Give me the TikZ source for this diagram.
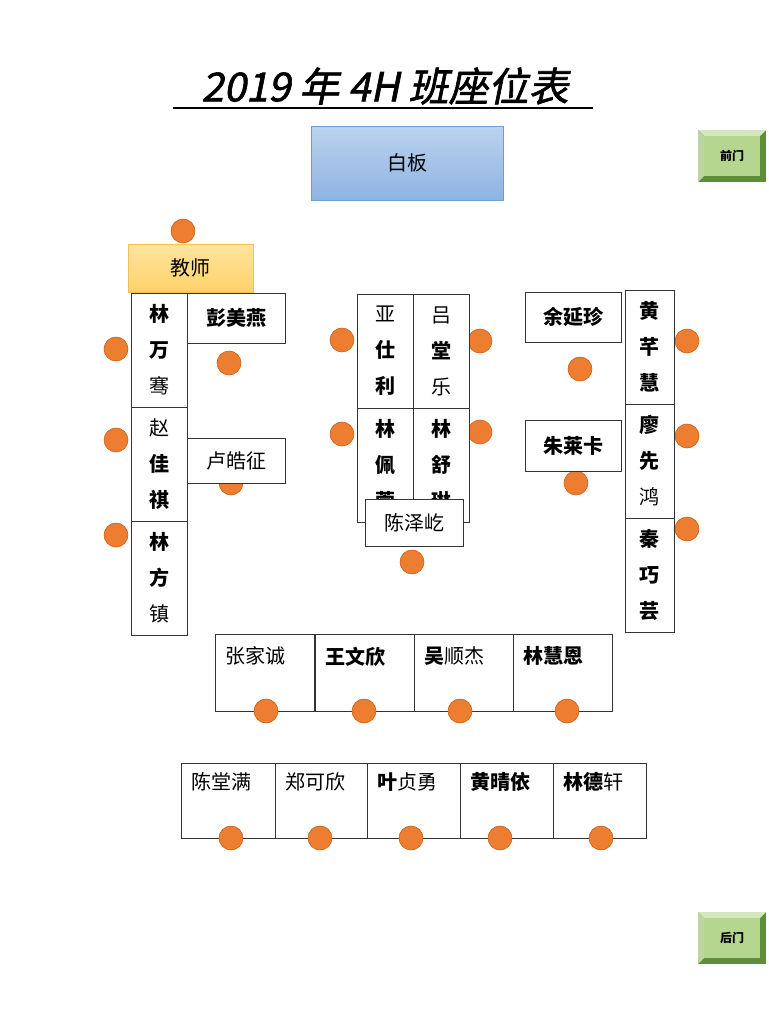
\documentclass[tikz,border=0pt]{standalone}
\usepackage{fontspec}
\setmainfont{Noto Sans CJK SC}
\newfontfamily\titlefont{Noto Sans CJK SC}[FakeSlant=0.2,FakeBold=1.5]
\def\u{0.75pt}
\definecolor{seatorange}{HTML}{ED7D31}
\definecolor{seatedge}{HTML}{C55A11}
\definecolor{boardtop}{HTML}{BCD2EE}
\definecolor{boardbot}{HTML}{8DB4E2}
\definecolor{boardedge}{HTML}{6E9BD0}
\definecolor{teachtop}{HTML}{FFE3A0}
\definecolor{teachbot}{HTML}{FFD36A}
\definecolor{teachedge}{HTML}{F2C14E}
\definecolor{doorface}{HTML}{B5D68F}
\definecolor{doordark}{HTML}{5E8E3A}
\definecolor{doorlight}{HTML}{D3E8BC}
\tikzset{
    seat/.style={
        circle,
        fill=seatorange,
        draw=seatedge,
        minimum size=24*\u,
        inner sep=0
    },
    desk/.style={
        rectangle,
        draw=black!80,
        fill=white,
        inner sep=0
    },
    namecol/.style={
        align=center,
        font=\fontsize{15}{27}\selectfont
    },
    namerow/.style={
        anchor=north west,
        font=\fontsize{15}{18}\selectfont
    },
    doorbtn/.style={
        font=\fontsize{9}{10}\selectfont\bfseries
    }
}
\newcommand{\doorbutton}[3]{% name, top-left x/y, label
  \fill[doordark] (#2) rectangle ++(68,52);
  \fill[doorlight] (#2) -- ++(68,0) -- ++(-6,6) -- ++(-56,0) -- cycle;
  \fill[doorlight!80!doordark] (#2) -- ++(0,52) -- ++(6,-6) -- ++(0,-40) -- cycle;
  \fill[doorface] ($(#2)+(6,6)$) rectangle ++(56,40);
  \node[doorbtn] (#1) at ($(#2)+(34,26)$) {#3};
}
\usetikzlibrary{calc}
\begin{document}
\begin{tikzpicture}[x=0.75pt,y=-0.75pt]
    \useasboundingbox[fill=white] (0,0) rectangle (768,1024);
    % 标题
    \node[font=\titlefont\fontsize{30}{34}\selectfont] (title) at (385,86) {2019 年 4H 班座位表};
    \draw[thick] (173,108) -- (593,108);
    % 白板 与 教师
    \node[rectangle,draw=boardedge,top color=boardtop,bottom color=boardbot,
          minimum width=192*\u,minimum height=74*\u,font=\fontsize{15}{18}\selectfont] (board) at (407,163) {白板};
    \node[seat] (s-teach) at (183,231) {};
    \node[rectangle,draw=teachedge,top color=teachtop,bottom color=teachbot,
          minimum width=125*\u,minimum height=48*\u,font=\fontsize{15}{18}\selectfont] (teacher) at (190.5,268) {教师};
    % 门
    \doorbutton{front}{698,130}{前门}
    \doorbutton{back}{698,912}{后门}
    % 左组
    \node[seat] (s-l1) at (116,349) {};
    \node[seat] (s-l2) at (116,440) {};
    \node[seat] (s-l3) at (116,535) {};
    \node[desk,namecol,minimum width=56*\u,minimum height=114*\u] (l1) at (159,350) {\textbf{林}\\\textbf{万}\\骞};
    \node[desk,namecol,minimum width=56*\u,minimum height=114*\u] (l2) at (159,464) {赵\\\textbf{佳}\\\textbf{祺}};
    \node[desk,namecol,minimum width=56*\u,minimum height=114*\u] (l3) at (159,578) {\textbf{林}\\\textbf{方}\\镇};
    \node[seat] (s-peng) at (229,363) {};
    \node[desk,minimum width=98*\u,minimum height=50*\u,font=\fontsize{15}{18}\selectfont\bfseries] (peng) at (236,318) {彭美燕};
    \node[seat] (s-lu) at (231,483) {};
    \node[desk,minimum width=98*\u,minimum height=45*\u,font=\fontsize{15}{18}\selectfont] (lu) at (236,460.5) {卢皓征};
    % 中组
    \node[seat] (s-m1) at (342,340) {};
    \node[seat] (s-m2) at (480,341) {};
    \node[seat] (s-m3) at (342,434) {};
    \node[seat] (s-m4) at (480,432) {};
    \node[desk,namecol,minimum width=56*\u,minimum height=114*\u] (m1) at (385,351) {亚\\\textbf{仕}\\\textbf{利}};
    \node[desk,namecol,minimum width=56*\u,minimum height=114*\u] (m2) at (441,351) {吕\\\textbf{堂}\\乐};
    \node[desk,namecol,minimum width=56*\u,minimum height=114*\u] (m3) at (385,465) {\textbf{林}\\\textbf{佩}\\\textbf{萱}};
    \node[desk,namecol,minimum width=56*\u,minimum height=114*\u] (m4) at (441,465) {\textbf{林}\\\textbf{舒}\\\textbf{琳}};
    \node[seat] (s-chen) at (412,562) {};
    \node[desk,minimum width=98*\u,minimum height=47*\u,font=\fontsize{15}{18}\selectfont] (chen) at (414,522.5) {陈泽屹};
    % 右组
    \node[seat] (s-yu) at (580,369) {};
    \node[desk,minimum width=96*\u,minimum height=50*\u,font=\fontsize{15}{18}\selectfont\bfseries] (yu) at (573,317) {余延珍};
    \node[seat] (s-zhu) at (576,483) {};
    \node[desk,minimum width=96*\u,minimum height=51*\u,font=\fontsize{15}{18}\selectfont\bfseries] (zhu) at (573,445.5) {朱莱卡};
    \node[seat] (s-r1) at (687,341) {};
    \node[seat] (s-r2) at (687,436) {};
    \node[seat] (s-r3) at (687,529) {};
    \node[desk,namecol,minimum width=49*\u,minimum height=114*\u] (r1) at (649.5,347) {\textbf{黄}\\\textbf{芊}\\\textbf{慧}};
    \node[desk,namecol,minimum width=49*\u,minimum height=114*\u] (r2) at (649.5,461) {\textbf{廖}\\\textbf{先}\\鸿};
    \node[desk,namecol,minimum width=49*\u,minimum height=114*\u] (r3) at (649.5,575) {\textbf{秦}\\\textbf{巧}\\\textbf{芸}};
    % 第一排
    \foreach \x/\n/\t in {215/a1/张家诚,315/a2/\textbf{王文欣},414/a3/\textbf{吴}顺杰,513/a4/\textbf{林慧恩}}{
        \node[desk,anchor=north west,minimum width=99*\u,minimum height=77*\u] (\n) at (\x,634) {};
        \node[namerow] at (\x+6,642) {\t};
    }
    \foreach \x/\n in {266/a1,364/a2,460/a3,567/a4}
        \node[seat] (s-\n) at (\x,711) {};
    % 第二排
    \foreach \x/\w/\n/\t in {181/94/b1/陈堂满,275/92/b2/郑可欣,367/93/b3/\textbf{叶}贞勇,460/93/b4/\textbf{黄晴依},553/93/b5/\textbf{林德}轩}{
        \node[desk,anchor=north west,minimum width=\w*\u,minimum height=75*\u] (\n) at (\x,763) {};
        \node[namerow] at (\x+6,768) {\t};
    }
    \foreach \x/\n in {231/b1,320/b2,411/b3,500/b4,601/b5}
        \node[seat] (s-\n) at (\x,838) {};
\end{tikzpicture}
\end{document}
